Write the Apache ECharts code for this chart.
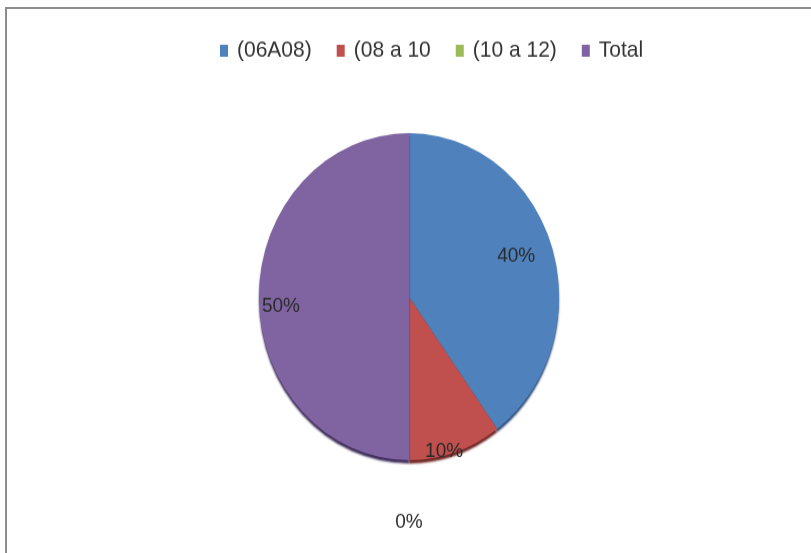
<!DOCTYPE html>
<html>
<head>
<meta charset="utf-8">
<script src="https://cdn.jsdelivr.net/npm/echarts@6/dist/echarts.min.js"></script>
<style>
  html, body { margin: 0; padding: 0; background: #ffffff; }
  #frame {
    position: absolute; left: 5px; top: 7px; width: 806px; height: 546px;
    border-top: 2px solid #8c8c8c; border-left: 2px solid #8c8c8c;
    box-sizing: border-box;
  }
  /* chart is laid out on a shorter canvas and stretched vertically */
  #chart {
    position: absolute; left: 0; top: 0; width: 811px; height: 507px;
    transform: scaleY(1.0907); transform-origin: 0 0;
  }
</style>
</head>
<body>
<div id="frame"></div>
<div id="chart"></div>
<script>
// categories and values
const categories = ['(06A08)', '(08 a 10', '(10 a 12)', 'Total'];
const values = [4, 1, 0, 5];
const colors = ['#4f81bd', '#c0504d', '#9bbb59', '#8064a2'];
const rimColors = ['#2c4d78', '#6e2422', '#5a7030', '#3e2c5a'];
// label nudges from the default inside position
const labelShift = [[33, -13], [11, 68], [0, 129], [-50, 9]];

const chart = echarts.init(document.getElementById('chart'), null, { renderer: 'canvas' });

const pieData = categories.map((name, i) => ({
  name: name,
  value: values[i],
  itemStyle: {
    color: colors[i],
    borderWidth: 0,
    shadowColor: rimColors[i],
    shadowBlur: 2,
    shadowOffsetY: 3
  }
}));

chart.setOption({
  animation: false,
  backgroundColor: 'transparent',
  legend: {
    data: categories,
    left: 215,
    top: 31,
    icon: 'rect',
    itemWidth: 8,
    itemHeight: 11,
    itemGap: 25,
    textStyle: {
      fontFamily: 'Liberation Sans, Arial, sans-serif',
      fontSize: 21,
      color: '#333333',
      padding: [0, 0, 0, 4]
    }
  },
  series: [{
    type: 'pie',
    center: [409, 272],
    radius: 150,
    startAngle: 90,
    clockwise: true,
    data: pieData,
    itemStyle: { borderWidth: 0 },
    label: {
      show: true,
      position: 'inside',
      formatter: '{d}%',
      fontFamily: 'Liberation Sans, Arial, sans-serif',
      fontSize: 19,
      color: '#2a2a2a'
    },
    labelLine: { show: false },
    labelLayout: function (params) {
      const s = labelShift[params.dataIndex];
      return { dx: s[0], dy: s[1] };
    },
    emphasis: { disabled: true }
  }]
});
</script>
</body>
</html>
